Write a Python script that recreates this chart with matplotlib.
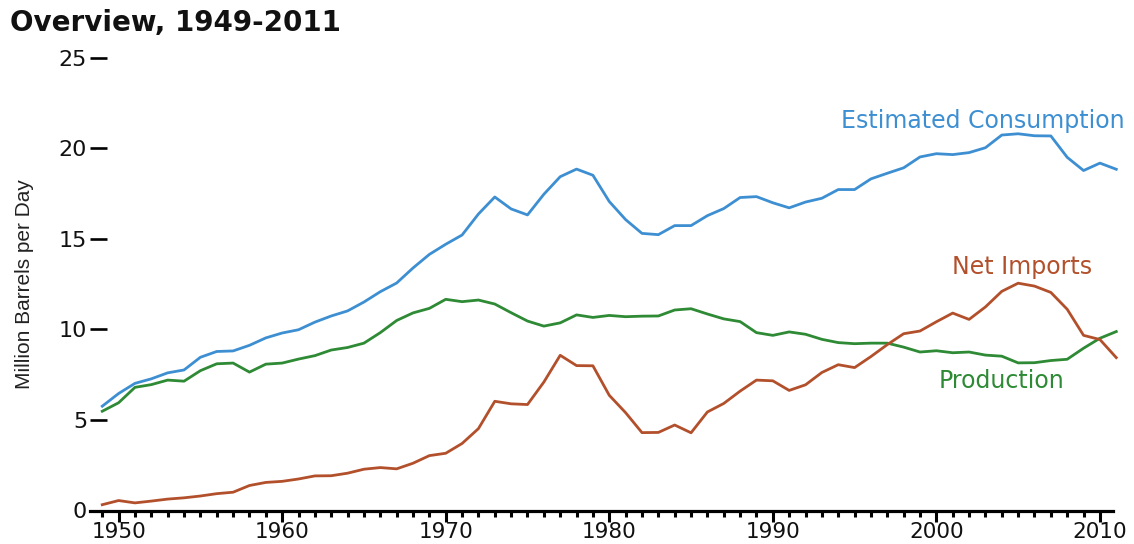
import matplotlib
matplotlib.use("Agg")
import matplotlib.pyplot as plt
from matplotlib.ticker import MultipleLocator

years = list(range(1949, 2012))

consumption = [5.76, 6.46, 7.02, 7.27, 7.60, 7.76, 8.46, 8.78, 8.81, 9.12,
               9.53, 9.80, 9.98, 10.40, 10.74, 11.02, 11.51, 12.08, 12.56, 13.39,
               14.14, 14.70, 15.21, 16.37, 17.31, 16.65, 16.32, 17.46, 18.43, 18.85,
               18.51, 17.06, 16.06, 15.30, 15.23, 15.73, 15.73, 16.28, 16.67, 17.28,
               17.33, 16.99, 16.71, 17.03, 17.24, 17.72, 17.72, 18.31, 18.62, 18.92,
               19.52, 19.70, 19.65, 19.76, 20.03, 20.73, 20.80, 20.69, 20.68, 19.50,
               18.77, 19.18, 18.84]

net_imports = [0.32, 0.55, 0.42, 0.52, 0.63, 0.70, 0.80, 0.93, 1.01, 1.38,
               1.55, 1.61, 1.74, 1.91, 1.92, 2.06, 2.28, 2.37, 2.30, 2.61,
               3.03, 3.16, 3.70, 4.52, 6.03, 5.89, 5.85, 7.09, 8.57, 8.00,
               7.99, 6.36, 5.40, 4.30, 4.31, 4.72, 4.29, 5.44, 5.91, 6.59,
               7.20, 7.16, 6.63, 6.94, 7.62, 8.05, 7.89, 8.50, 9.16, 9.76,
               9.91, 10.42, 10.90, 10.55, 11.24, 12.10, 12.55, 12.39, 12.04, 11.11,
               9.67, 9.44, 8.44]

production = [5.48, 5.95, 6.80, 6.95, 7.20, 7.14, 7.72, 8.10, 8.14, 7.64,
              8.08, 8.14, 8.36, 8.55, 8.86, 9.00, 9.24, 9.82, 10.49, 10.91,
              11.16, 11.66, 11.53, 11.62, 11.40, 10.92, 10.46, 10.18, 10.36, 10.80,
              10.66, 10.77, 10.70, 10.73, 10.74, 11.07, 11.14, 10.85, 10.58, 10.43,
              9.82, 9.67, 9.86, 9.73, 9.45, 9.27, 9.21, 9.24, 9.24, 9.02,
              8.75, 8.82, 8.71, 8.75, 8.58, 8.52, 8.15, 8.16, 8.28, 8.35,
              8.96, 9.51, 9.88]

x_ticks = [1950, 1960, 1970, 1980, 1990, 2000, 2010]
y_ticks = [0, 5, 10, 15, 20, 25]

title = "Overview, 1949-2011"
y_label = "Million Barrels per Day"
label_cons = "Estimated Consumption"
label_imp = "Net Imports"
label_prod = "Production"

c_blue = "#3d8fd2"
c_red = "#b3502c"
c_green = "#2e8a34"
c_text = "#111111"

W, H = 1134, 544
fig = plt.figure(figsize=(W / 100, H / 100), dpi=100)
left, right = 90 / W, 1113 / W
bottom, top = (H - 510.5) / H, (H - 57.7) / H
ax = fig.add_axes([left, bottom, right - left, top - bottom])

ax.plot(years, consumption, color=c_blue, lw=2.0, clip_on=False, solid_joinstyle="round")
ax.plot(years, production, color=c_green, lw=2.0, clip_on=False, solid_joinstyle="round")
ax.plot(years, net_imports, color=c_red, lw=2.0, clip_on=False, solid_joinstyle="round")

ax.set_xlim(1948.25, 2010.8)
ax.set_ylim(0, 25)

for s in ["top", "right", "left"]:
    ax.spines[s].set_visible(False)
ax.spines["bottom"].set_linewidth(2.3)
ax.spines["bottom"].set_color("black")

ax.set_xticks(x_ticks)
ax.set_xticklabels([str(v) for v in x_ticks])
ax.xaxis.set_minor_locator(MultipleLocator(1))
ax.tick_params(axis="x", which="major", direction="out", length=7.6, width=2.2,
               pad=0.5, labelsize=15.5, labelcolor=c_text)
ax.tick_params(axis="x", which="minor", direction="out", length=4.3, width=2.2)

ax.set_yticks(y_ticks)
ax.set_yticklabels([str(v) for v in y_ticks])
ax.tick_params(axis="y", which="major", direction="in", length=12.3, width=1.9,
               pad=2, labelsize=16, labelcolor=c_text)

for lab in ax.get_xticklabels() + ax.get_yticklabels():
    lab.set_family("DejaVu Sans")

fig.text(10 / W, (H - 31) / H, title, ha="left", va="baseline",
         fontsize=20, fontweight="bold", family="DejaVu Sans", color=c_text)

fig.text(25 / W, (H - 284) / H, y_label, rotation=90, ha="center", va="center",
         fontsize=15, family="Liberation Sans", color="#222222")

ax.text(2011.53, 21.12, label_cons, ha="right", va="baseline", fontsize=17,
        family="DejaVu Sans", color=c_blue, clip_on=False)
ax.text(2005.24, 13.06, label_imp, ha="center", va="baseline", fontsize=17,
        family="DejaVu Sans", color=c_red, clip_on=False)
ax.text(2004.01, 6.76, label_prod, ha="center", va="baseline", fontsize=17,
        family="DejaVu Sans", color=c_green, clip_on=False)

fig.savefig("out.png", dpi=100)
